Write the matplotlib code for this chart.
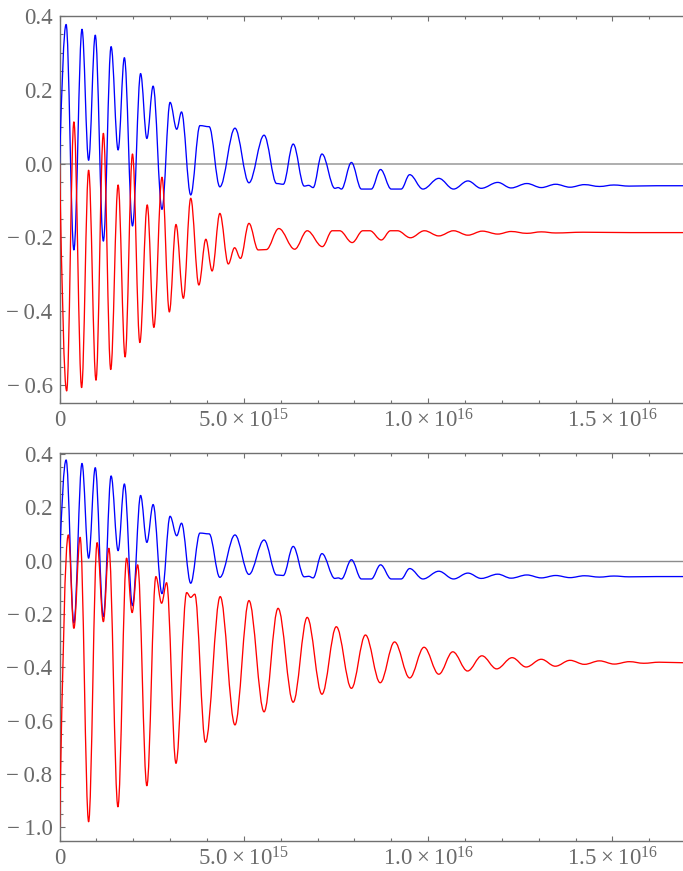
import matplotlib
matplotlib.use("Agg")
import matplotlib.pyplot as plt
from matplotlib.path import Path
from matplotlib.patches import PathPatch
from matplotlib.ticker import FixedLocator, FixedFormatter, MultipleLocator

plt.rcParams['font.family'] = ['Liberation Serif', 'DejaVu Serif']
plt.rcParams['mathtext.fontset'] = 'custom'
plt.rcParams['mathtext.rm'] = 'Liberation Serif'
plt.rcParams['mathtext.default'] = 'regular'

X_UNIT = 1e15

# ---- data (x in units of 1e15), extrema ----
blue_x = [0, 0.18, 0.39, 0.61, 0.79, 0.97, 1.19, 1.40, 1.59, 1.76, 1.98, 2.20, 2.37, 2.54,
          2.78, 3.00, 3.18, 3.31, 3.56, 3.81, 4.06, 4.35, 4.76, 5.14, 5.55, 5.89, 6.07, 6.34,
          6.64, 6.76, 6.88, 7.12, 7.47, 7.56, 7.65, 7.92, 8.19, 8.46, 8.71, 9.00, 9.27, 9.50,
          9.86, 10.29, 10.69, 11.08, 11.44, 11.89, 12.25, 12.68, 13.07, 13.46, 13.85, 14.24,
          14.65, 15.04, 15.45, 16.2, 16.95]
blue_y = [0, 0.377, -0.234, 0.364, 0.009, 0.348, -0.210, 0.317, 0.037, 0.287, -0.169, 0.244,
          0.068, 0.210, -0.124, 0.166, 0.093, 0.140, -0.085, 0.103, 0.100, -0.063, 0.096,
          -0.052, 0.077, -0.054, -0.056, 0.053, -0.061, -0.059, -0.065, 0.026, -0.067,
          -0.065, -0.069, 0.003, -0.069, -0.069, -0.016, -0.069, -0.069, -0.030, -0.069,
          -0.040, -0.069, -0.047, -0.067, -0.051, -0.066, -0.054, -0.065, -0.056, -0.064,
          -0.057, -0.062, -0.058, -0.061, -0.060, -0.060]

red_top_x = [0, 0.195, 0.39, 0.60, 0.79, 0.99, 1.19, 1.39, 1.59, 1.78, 1.98, 2.18, 2.38, 2.56,
             2.78, 2.98, 3.16, 3.36, 3.56, 3.78, 3.97, 4.14, 4.35, 4.58, 4.75, 4.91, 5.14,
             5.39, 5.61, 5.95, 6.38, 6.72, 7.13, 7.40, 7.60, 7.94, 8.23, 8.42, 8.73, 8.98,
             9.17, 9.52, 9.90, 10.29, 10.69, 11.08, 11.47, 11.89, 12.25, 12.68, 13.07, 13.46,
             14.2, 15.5, 16.95]
red_top_y = [0, -0.616, 0.113, -0.607, -0.018, -0.587, 0.082, -0.558, -0.058, -0.524, 0.026,
             -0.485, -0.112, -0.444, -0.037, -0.402, -0.165, -0.365, -0.094, -0.329, -0.205,
             -0.291, -0.135, -0.272, -0.228, -0.257, -0.162, -0.234, -0.233, -0.176, -0.232,
             -0.182, -0.225, -0.182, -0.182, -0.214, -0.182, -0.182, -0.207, -0.182, -0.182,
             -0.201, -0.182, -0.196, -0.182, -0.194, -0.183, -0.191, -0.184, -0.189, -0.185,
             -0.188, -0.186, -0.187, -0.187]

red_bot_x = [0, 0.24, 0.39, 0.56, 0.79, 1.02, 1.19, 1.34, 1.585, 1.82, 1.97, 2.12, 2.37, 2.615,
             2.77, 2.905, 3.16, 3.45, 3.56, 3.67, 3.96, 4.36, 4.76, 5.14, 5.55, 5.93, 6.34,
             6.72, 7.12, 7.51, 7.92, 8.30, 8.70, 9.09, 9.50, 9.89, 10.29, 10.67, 11.07, 11.46,
             11.86, 12.28, 12.66, 13.07, 13.45, 13.85, 14.24, 14.65, 15.05, 15.46, 15.85,
             16.27, 16.95]
red_bot_y = [-1.0, 0.096, -0.254, 0.087, -0.979, 0.067, -0.229, 0.046, -0.923, 0.009, -0.195,
             -0.016, -0.844, -0.060, -0.160, -0.083, -0.760, -0.120, -0.138, -0.126, -0.681,
             -0.135, -0.616, -0.150, -0.567, -0.179, -0.531, -0.213, -0.501, -0.248, -0.479,
             -0.279, -0.458, -0.305, -0.440, -0.325, -0.426, -0.342, -0.414, -0.357, -0.406,
             -0.364, -0.399, -0.370, -0.396, -0.374, -0.389, -0.376, -0.388, -0.379, -0.385,
             -0.381, -0.383]

x_ticks = [0, 5e15, 1e16, 1.5e16]
x_tick_labels = ['0', '5.0\u2009×\u200910$^{15}$', '1.0\u2009×\u200910$^{16}$',
                 '1.5\u2009×\u200910$^{16}$']
top_y_ticks = [0.4, 0.2, 0.0, -0.2, -0.4, -0.6]
bot_y_ticks = [0.4, 0.2, 0.0, -0.2, -0.4, -0.6, -0.8, -1.0]


def fmt_y(v):
    s = f"{abs(v):.1f}"
    return ("\u2212\u2009" + s) if v < 0 else s


def smooth_curve(ax, xs, ys, color, k=0.36):
    xs = [x * X_UNIT for x in xs]
    verts = [(xs[0], ys[0])]
    codes = [Path.MOVETO]
    for i in range(1, len(xs)):
        x0, y0, x1, y1 = xs[i - 1], ys[i - 1], xs[i], ys[i]
        d = (x1 - x0) * k
        if i == 1:
            c1 = (x0 + d, y0 + 0.55 * (y1 - y0))
        else:
            c1 = (x0 + d, y0)
        c2 = (x1 - d, y1)
        verts += [c1, c2, (x1, y1)]
        codes += [Path.CURVE4] * 3
    ax.add_patch(PathPatch(Path(verts, codes), facecolor='none', edgecolor=color,
                           lw=0.95, zorder=3, capstyle='round', joinstyle='round'))


W, H = 683, 871
fig = plt.figure(figsize=(W / 100, H / 100), dpi=100)
left = 59.5 / W
ax1 = fig.add_axes([left, 1 - 402.7 / H, 1 - left, (402.7 - 16.0) / H])
ax2 = fig.add_axes([left, 1 - 840.7 / H, 1 - left, (840.7 - 453.3) / H])

frame_col = '#707070'
label_col = '#6a6a6a'

for ax, yl, yt, zc, zw in [(ax1, (-0.648, 0.400), top_y_ticks, '#a8a8a8', 1.3),
                            (ax2, (-1.050, 0.402), bot_y_ticks, '#8c8c8c', 1.0)]:
    ax.set_xlim(0, 16.915e15)
    ax.set_ylim(*yl)
    ax.axhline(0, color=zc, lw=zw, zorder=1)
    for s in ['left', 'bottom', 'top']:
        ax.spines[s].set_color(frame_col)
        ax.spines[s].set_linewidth(1.0)
    ax.spines['right'].set_visible(False)
    ax.xaxis.set_major_locator(FixedLocator(x_ticks))
    ax.xaxis.set_major_formatter(FixedFormatter(x_tick_labels))
    ax.xaxis.set_minor_locator(MultipleLocator(1e15))
    ax.yaxis.set_major_locator(FixedLocator(yt))
    ax.yaxis.set_major_formatter(FixedFormatter([fmt_y(v) for v in yt]))
    ax.yaxis.set_minor_locator(MultipleLocator(0.05))
    ax.tick_params(which='both', direction='in', color=frame_col, width=0.8,
                   top=True, right=False, labelcolor=label_col, labelsize=16.5)
    ax.tick_params(which='major', length=3.6)
    ax.tick_params(which='minor', length=2.0)
    ax.tick_params(axis='x', pad=5.0)
    ax.tick_params(axis='y', pad=5)

smooth_curve(ax1, blue_x, blue_y, '#0000ff')
smooth_curve(ax1, red_top_x, red_top_y, '#ff0000')
smooth_curve(ax2, blue_x, blue_y, '#0000ff')
smooth_curve(ax2, red_bot_x, red_bot_y, '#ff0000')

fig.savefig('out.png', dpi=100)
